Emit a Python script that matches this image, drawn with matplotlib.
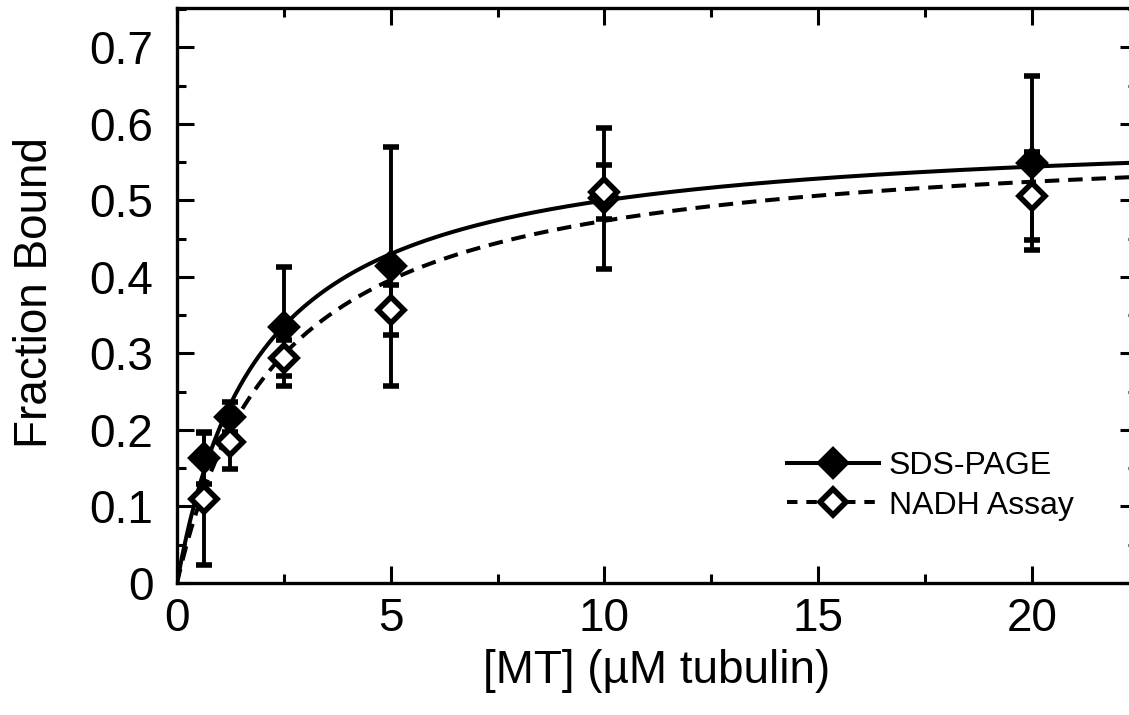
import numpy as np
import matplotlib
matplotlib.use("Agg")
import matplotlib.pyplot as plt
from matplotlib.lines import Line2D
from matplotlib.ticker import MultipleLocator

plt.rcParams['font.family'] = ['Liberation Sans', 'DejaVu Sans']

# 数据
mt_conc = [0.625, 1.25, 2.5, 5, 10, 20]

sds_bound = [0.163, 0.217, 0.335, 0.414, 0.503, 0.549]
sds_err = [0.033, 0.020, 0.078, 0.156, 0.092, 0.114]

nadh_bound = [0.110, 0.184, 0.294, 0.357, 0.511, 0.506]
nadh_err = [0.087, 0.035, 0.024, 0.033, 0.035, 0.058]

# 双曲线拟合参数 Bmax * x / (Kd + x)
sds_bmax, sds_kd = 0.597, 1.94
nadh_bmax, nadh_kd = 0.588, 2.42

labels = ['SDS-PAGE', 'NADH Assay']


def hyperbola(x, bmax, kd):
    return bmax * x / (kd + x)


fig = plt.figure(figsize=(11.29, 7.15), dpi=100)
ax = fig.add_axes([177 / 1129, 132 / 715, 960 / 1129, 575 / 715])

xfit = np.linspace(0, 22.5, 400)
ax.plot(xfit, hyperbola(xfit, sds_bmax, sds_kd), color='k', lw=2.9, zorder=2)
ax.plot(xfit, hyperbola(xfit, nadh_bmax, nadh_kd), color='k', lw=2.9,
        ls=(0, (3.6, 2.2)), zorder=2)

ms, mew = 13.5, 4.0
ax.errorbar(mt_conc, sds_bound, yerr=sds_err, fmt='D', ms=ms, mfc='k', mec='k',
            mew=mew, ecolor='k', elinewidth=2.8, capsize=6, capthick=2.8, zorder=3)
ax.errorbar(mt_conc, nadh_bound, yerr=nadh_err, fmt='D', ms=ms, mfc='white', mec='k',
            mew=mew, ecolor='k', elinewidth=2.8, capsize=6, capthick=2.8, zorder=4)

ax.set_xlim(0, 22.46)
ax.set_ylim(0, 0.7516)
ax.xaxis.set_minor_locator(MultipleLocator(2.5))
ax.yaxis.set_minor_locator(MultipleLocator(0.05))
ax.set_yticks(np.arange(0, 0.71, 0.1))
ax.set_yticklabels(['0', '0.1', '0.2', '0.3', '0.4', '0.5', '0.6', '0.7'])
ax.set_xticks([0, 5, 10, 15, 20])
ax.set_xticklabels(['0', '5', '10', '15', '20'])

ax.tick_params(which='both', direction='in', top=True, right=True, width=2.2, color='k')
ax.tick_params(which='major', length=12)
ax.tick_params(which='minor', length=6.5)
ax.tick_params(axis='x', labelsize=33, pad=10)
ax.tick_params(axis='y', labelsize=33, pad=17)
for sp in ax.spines.values():
    sp.set_linewidth(2.4)

ax.set_xlabel('[MT] (µM tubulin)', fontsize=33)
ax.set_ylabel('Fraction Bound', fontsize=33)
ax.xaxis.set_label_coords(0.5, -0.115)
ax.yaxis.set_label_coords(-0.125, 0.505)

handles = [
    Line2D([], [], color='k', lw=2.9, marker='D', ms=ms, mfc='k', mec='k', mew=mew),
    Line2D([], [], color='k', lw=2.9, ls=(0, (2.6, 2.2)), marker='D', ms=ms,
           mfc='white', mec='k', mew=mew),
]
ax.legend(handles, labels, loc='center left', bbox_to_anchor=(0.635, 0.169),
          frameon=False, fontsize=23, handlelength=2.9, handletextpad=0.3,
          labelspacing=0.3, borderpad=0, borderaxespad=0, numpoints=1)

fig.savefig('out.png', dpi=100)
